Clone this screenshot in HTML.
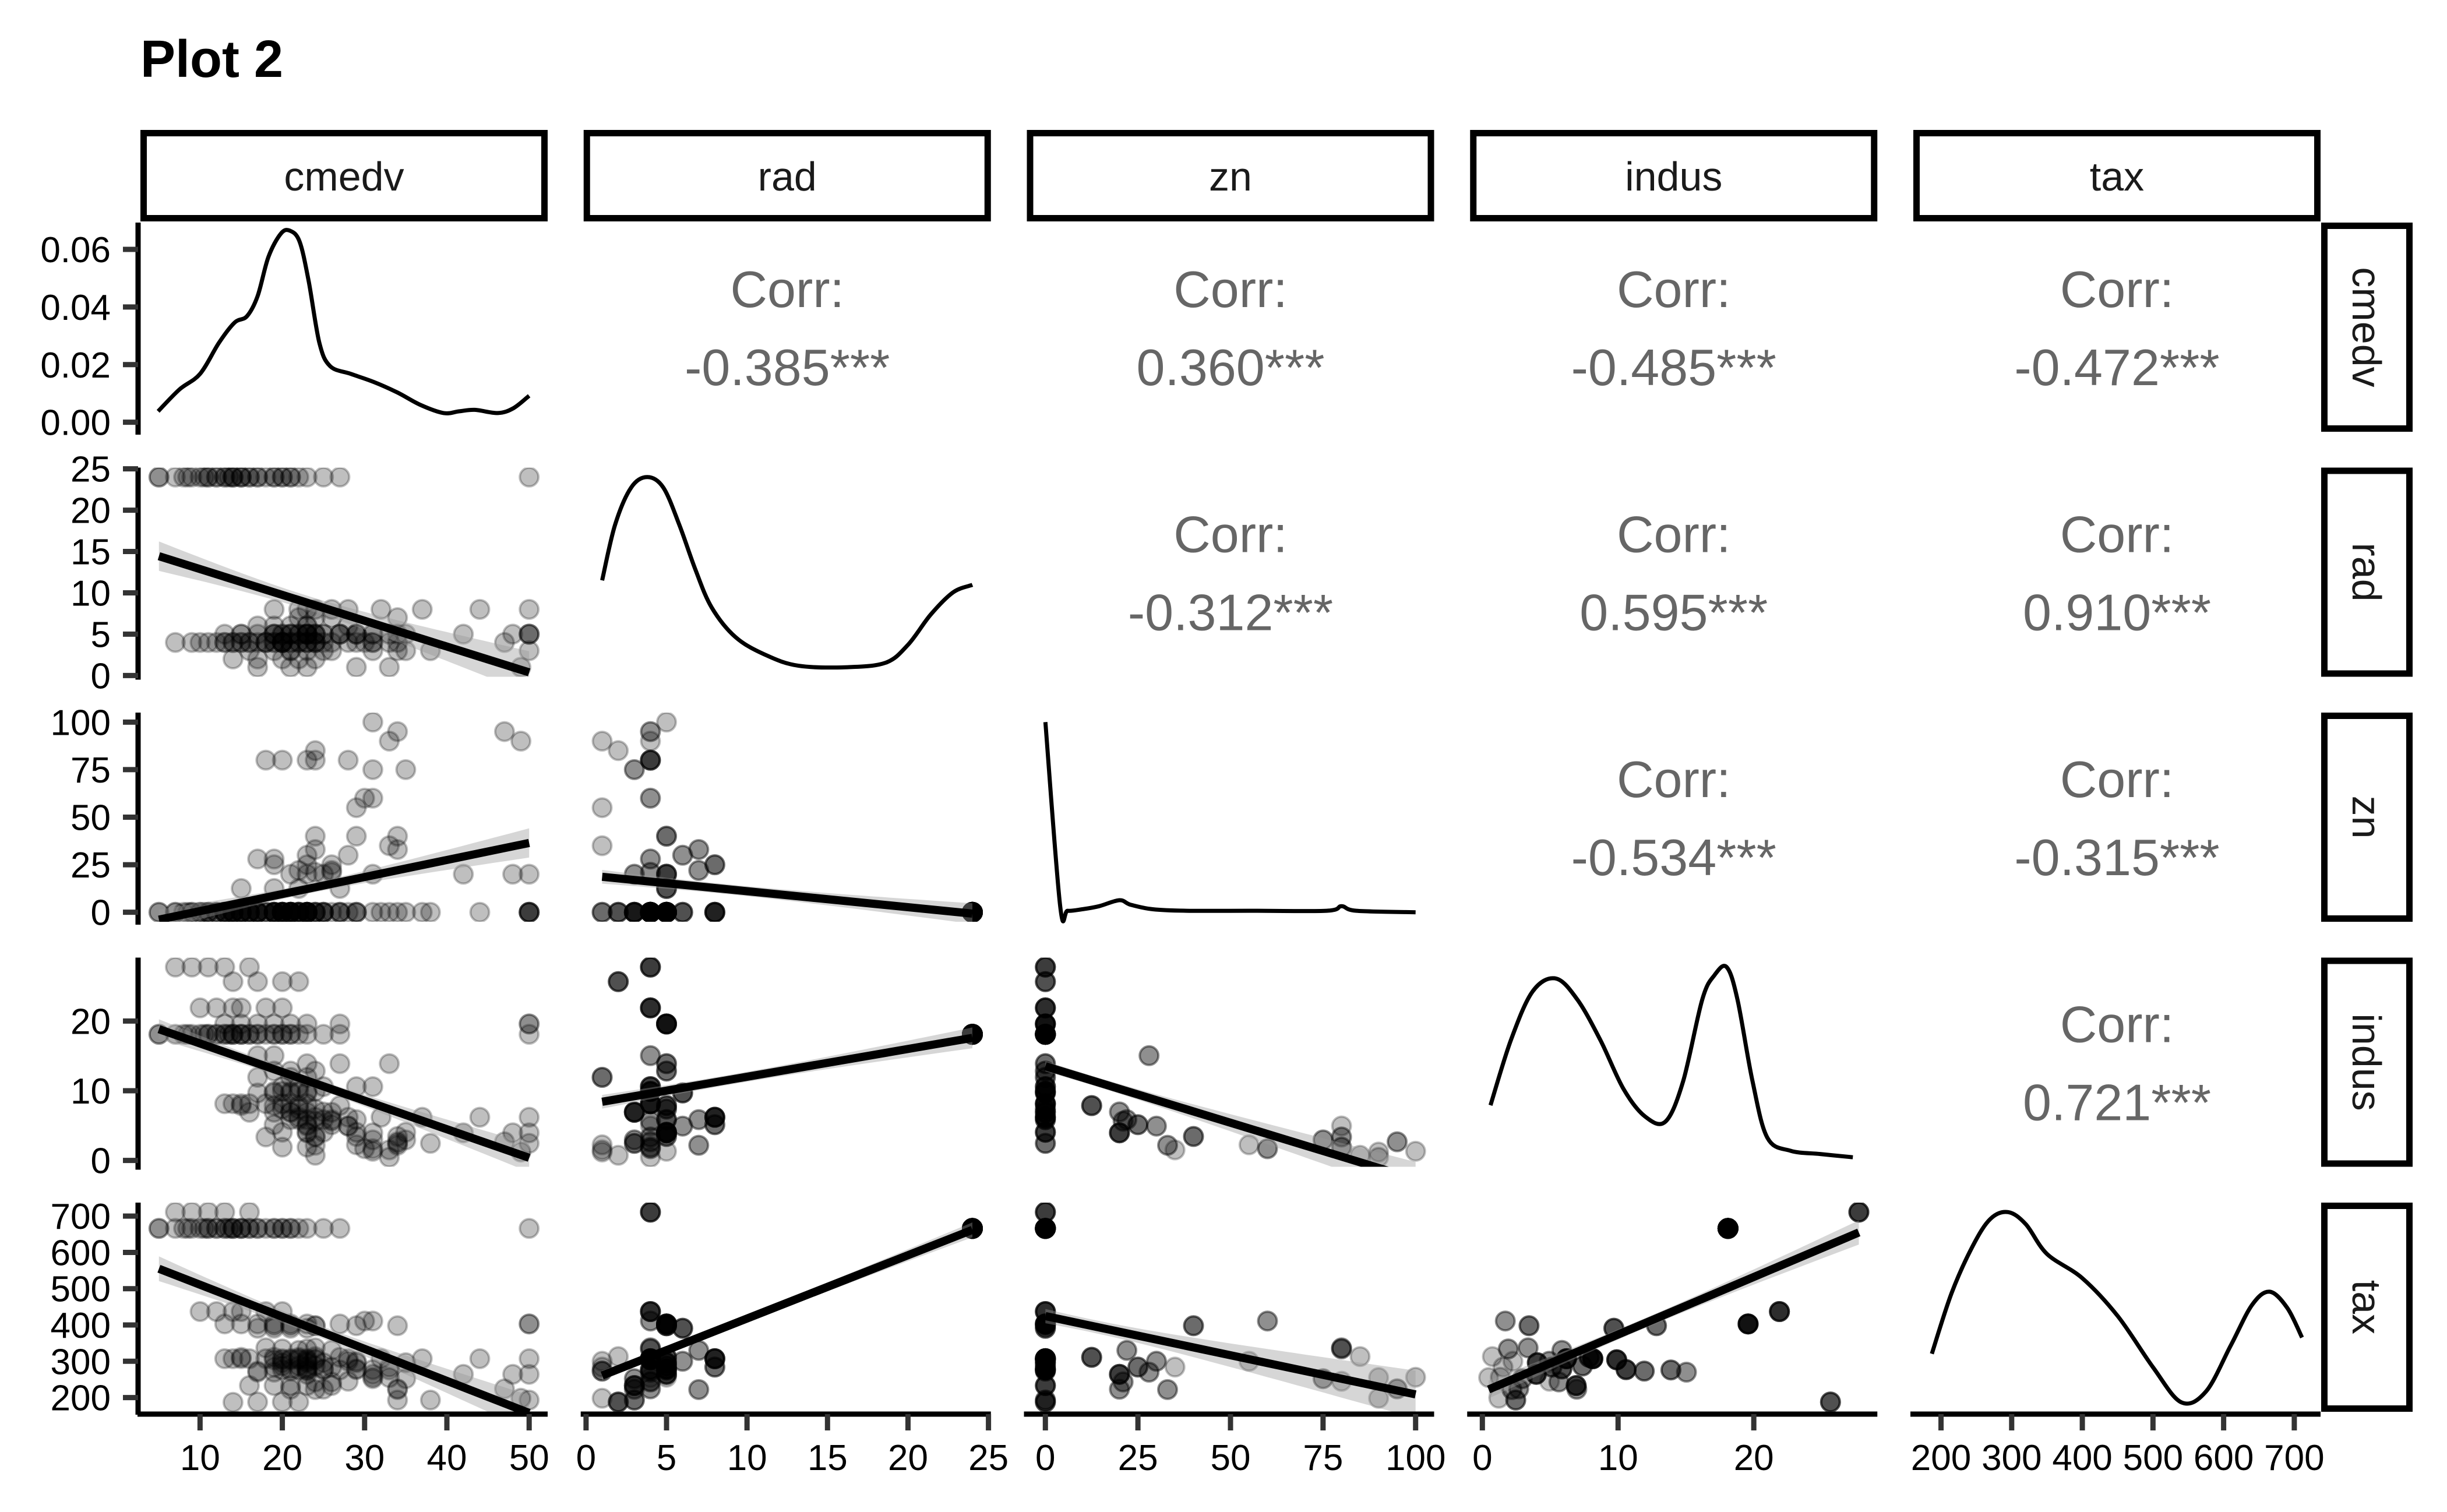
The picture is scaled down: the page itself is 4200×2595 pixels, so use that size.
<!DOCTYPE html>
<html><head><meta charset="utf-8"><title>Plot 2</title>
<style>
html,body{margin:0;padding:0;background:#fff;}
svg{display:block;font-family:"Liberation Sans",Arial,sans-serif;}
</style></head>
<body>
<svg id="chart" xmlns="http://www.w3.org/2000/svg" width="4200" height="2595" viewBox="0 0 4200 2595">
<rect x="0" y="0" width="4200" height="2595" fill="#fff"/>
<text x="241" y="132" font-size="90" font-weight="bold" fill="#000">Plot 2</text>
</svg>
<script>
// ---- data ----
const varNames = ["cmedv","rad","zn","indus","tax"];
const cmedv = [
5,5,7,8,8.5,9,10,10.5,11,11,12,12,13,13,13.5,14,14,14,15,15,15,16,16,17,17,18,19,19,20,20,21,21,22,23,25,27,50,
7,9,11,13,16,
13,15,17,19,21,23,27,50,50,
10,12,14,15,18,20,
14,17,20,22,
13,14,15,16,18,20,21,23,
22,24,28,32,37,44,50,
19,20,21,22,23,24,
20,22,25,29,31,
21,23,25,29,
16,19,21,23,26,
20,23,25,29,35,
17,19,21,23,
19,21,24,
20,22,24,
23,27,33,
17,21,23,
23,31,42,48,50,
34,38,50,
24,29,34,
20,23,18,24,34,47,49,24,31,31,35,30,31,29,33,24,34,17,19,19,23,26,22,26,24,26,15,19,22,27,21,25,23,28,28,33];
const rad = [
24,24,24,24,24,24,24,24,24,24,24,24,24,24,24,24,24,24,24,24,24,24,24,24,24,24,24,24,24,24,24,24,24,24,24,24,24,
4,4,4,4,4,
5,5,5,5,5,5,5,5,5,
4,4,4,4,4,4,
2,2,2,2,
4,4,4,4,4,4,4,4,
8,8,8,8,8,8,8,
4,4,4,4,4,4,
4,4,4,4,4,
5,5,5,5,
3,3,3,3,3,
5,5,5,5,5,
6,6,6,6,
5,5,5,
5,5,5,
5,5,5,
1,1,1,
5,5,5,5,5,
3,3,3,
5,5,5,
4,4,4,4,4,4,1,2,5,3,3,4,4,1,1,7,7,4,4,8,8,8,7,7,4,4,5,5,5,5,3,3,6,6,4,4];
const zn = [
0,0,0,0,0,0,0,0,0,0,0,0,0,0,0,0,0,0,0,0,0,0,0,0,0,0,0,0,0,0,0,0,0,0,0,0,0,
0,0,0,0,0,
0,0,0,0,0,0,0,0,0,
0,0,0,0,0,0,
0,0,0,0,
0,0,0,0,0,0,0,0,
0,0,0,0,0,0,0,
0,0,0,0,0,0,
0,0,0,0,0,
0,0,0,0,
0,0,0,0,0,
0,0,0,0,0,
0,0,0,0,
0,0,0,
0,0,0,
0,0,0,
0,0,0,
20,20,20,20,20,
0,0,0,
40,40,40,
80,80,80,80,95,95,90,85,100,75,75,60,60,55,35,33,33,28,28,25,25,25,22,22,21,21,12.5,12.5,12.5,12.5,20,20,30,30,80,90];
const indus = [
18.1,18.1,18.1,18.1,18.1,18.1,18.1,18.1,18.1,18.1,18.1,18.1,18.1,18.1,18.1,18.1,18.1,18.1,18.1,18.1,18.1,18.1,18.1,18.1,18.1,18.1,18.1,18.1,18.1,18.1,18.1,18.1,18.1,18.1,18.1,18.1,18.1,
27.74,27.74,27.74,27.74,27.74,
19.58,19.58,19.58,19.58,19.58,19.58,19.58,19.58,19.58,
21.89,21.89,21.89,21.89,21.89,21.89,
25.65,25.65,25.65,25.65,
8.14,8.14,8.14,8.14,8.14,8.14,8.14,8.14,
6.2,6.2,6.2,6.2,6.2,6.2,6.2,
9.9,9.9,9.9,9.9,9.9,9.9,
10.59,10.59,10.59,10.59,10.59,
5.86,5.86,5.86,5.86,
6.91,6.91,6.91,6.91,6.91,
4.05,4.05,4.05,4.05,4.05,
9.69,9.69,9.69,9.69,
12.83,12.83,12.83,
7.38,7.38,7.38,
13.89,13.89,13.89,
11.93,11.93,11.93,
3.97,3.97,3.97,3.97,3.97,
2.46,2.46,2.46,
3.44,3.44,3.44,
1.91,1.91,3.37,3.37,2.68,2.68,1.21,0.74,1.32,2.95,2.95,1.69,1.69,2.25,1.52,2.18,2.18,15.04,15.04,5.13,5.13,5.13,5.86,5.86,5.64,5.64,7.87,7.87,7.87,7.87,6.96,6.96,4.93,4.93,4.95,0.46];
const tax = [
666,666,666,666,666,666,666,666,666,666,666,666,666,666,666,666,666,666,666,666,666,666,666,666,666,666,666,666,666,666,666,666,666,666,666,666,666,
711,711,711,711,711,
403,403,403,403,403,403,403,403,403,
437,437,437,437,437,437,
187,188,188,188,
307,307,307,307,307,307,307,307,
307,307,307,307,307,307,307,
304,304,304,304,304,304,
277,277,277,277,277,
279,279,279,279,
233,233,233,233,233,
296,296,296,296,296,
391,391,391,391,
398,398,398,
287,287,287,
276,276,276,
273,273,273,
264,264,264,264,264,
193,193,193,
398,398,398,
334,334,337,337,224,224,198,313,256,252,252,411,411,300,284,222,222,270,270,284,284,284,330,330,243,243,311,311,311,311,223,223,300,300,245,255];

// density curves (x value, density)
const densCmedvX = [4.9,7.5,10,12.3,14.2,15.7,17,18.3,19.8,20.9,22.1,23.2,24.5,25.8,28.3,31.1,34,36.8,39.6,41.5,43.4,46.2,48.1,50];
const densCmedvY = [0.0038,0.0114,0.0168,0.0276,0.0346,0.0368,0.0438,0.0573,0.0654,0.0665,0.0627,0.049,0.0276,0.0195,0.0168,0.014,0.0103,0.006,0.0032,0.0038,0.0043,0.0032,0.0049,0.0092];
const densRadX = [1,1.8,2.8,3.8,4.8,5.8,6.8,7.8,9.3,11.2,13.2,16.1,18.6,20,21.4,22.8,24];
const densRadY = [0.061,0.098,0.123,0.130,0.123,0.098,0.068,0.043,0.023,0.011,0.004,0.003,0.006,0.018,0.038,0.053,0.058];
const densZnX = [0,4,6,10,14.5,20,23,29,38,55,76,80,84,100];
const densZnY = [128,6,3,4,6,10,7,4,3,3,3,6,3,2];
const densIndusX = [0.6,2.1,3.7,5.4,7.0,8.7,10.4,12.0,13.5,14.8,16.2,17.1,18.0,18.8,19.9,21.0,22.7,24.9,27.3];
const densIndusY = [42,82,112,120,107,82,52,35,32,57,107,122,127,107,57,22,14,12,10];
const densTaxX = [187,215,245,270,295,320,350,400,450,500,540,575,610,640,665,690,711];
const densTaxY = [44,89,124,144,149,140,118,100,72,34,8,16,50,80,90,78,56];

const corrLabels = {"0-1":"-0.385***","0-2":"0.360***","0-3":"-0.485***","0-4":"-0.472***",
  "1-2":"-0.312***","1-3":"0.595***","1-4":"0.910***","2-3":"-0.534***","2-4":"-0.315***","3-4":"0.721***"};

const densTicks = [0,0.02,0.04,0.06];
const densTickLabels = ["0.00","0.02","0.04","0.06"];
const ticksCmedv = [10,20,30,40,50];
const ticksRad = [0,5,10,15,20,25];
const ticksZn = [0,25,50,75,100];
const ticksIndus = [0,10,20];
const ticksTax = [200,300,400,500,600,700];

// ---- layout ----
const NS = "http://www.w3.org/2000/svg";
const svg = document.getElementById("chart");
const X0 = 241, PW = 699, PX = 760.75;
const Y0 = 382, PH = 359, PY = 420.5;
const dataVals = [cmedv, rad, zn, indus, tax];
const ticks = [ticksCmedv, ticksRad, ticksZn, ticksIndus, ticksTax];
const densX = [densCmedvX, densRadX, densZnX, densIndusX, densTaxX];
const densY = [densCmedvY, densRadY, densZnY, densIndusY, densTaxY];

function mk(tag, attrs, parent){
  const e = document.createElementNS(NS, tag);
  for (const k in attrs) e.setAttribute(k, attrs[k]);
  (parent || svg).appendChild(e);
  return e;
}
function domainOf(arr){
  let mn = Math.min(...arr), mx = Math.max(...arr);
  const pad = (mx - mn) * 0.05;
  return [mn - pad, mx + pad];
}
function xScale(j){
  const d = domainOf(dataVals[j]);
  const left = X0 + j * PX;
  return v => left + (v - d[0]) / (d[1] - d[0]) * PW;
}
function yScale(i){
  const d = domainOf(dataVals[i]);
  const top = Y0 + i * PY;
  return v => top + PH - (v - d[0]) / (d[1] - d[0]) * PH;
}
function densYScale(i){
  const d = domainOf(densY[i]);
  const top = Y0 + i * PY;
  return v => top + PH - (v - d[0]) / (d[1] - d[0]) * PH;
}
function smoothPath(pts){
  let d = "M" + pts[0][0].toFixed(1) + "," + pts[0][1].toFixed(1);
  for (let k = 0; k < pts.length - 1; k++){
    const p0 = pts[k-1] || pts[k], p1 = pts[k], p2 = pts[k+1], p3 = pts[k+2] || p2;
    const c1x = p1[0] + (p2[0]-p0[0])/6, c1y = p1[1] + (p2[1]-p0[1])/6;
    const c2x = p2[0] - (p3[0]-p1[0])/6, c2y = p2[1] - (p3[1]-p1[1])/6;
    d += " C" + c1x.toFixed(1)+","+c1y.toFixed(1)+" "+c2x.toFixed(1)+","+c2y.toFixed(1)+" "+p2[0].toFixed(1)+","+p2[1].toFixed(1);
  }
  return d;
}

// clip paths
const defs = mk("defs", {});
for (let i = 0; i < 5; i++) for (let j = 0; j < 5; j++){
  const cp = mk("clipPath", {id: "clip-" + i + "-" + j}, defs);
  mk("rect", {x: X0 + j*PX, y: Y0 + i*PY, width: PW, height: PH}, cp);
}

// top strips
for (let j = 0; j < 5; j++){
  const g = mk("g", {});
  
  
  const left = X0 + j*PX;
  mk("rect", {x: left + 5.5, y: 228.5, width: PW - 11, height: 146, fill: "#fff", stroke: "#000", "stroke-width": 11}, g);
  const t = mk("text", {x: left + PW/2, y: 327, "font-size": 70, "text-anchor": "middle", fill: "#1a1a1a"}, g);
  t.textContent = varNames[j];
}
// right strips
for (let i = 0; i < 5; i++){
  const g = mk("g", {});
  
  
  const top = Y0 + i*PY;
  mk("rect", {x: 3989.5, y: top + 5.5, width: 146, height: PH - 11, fill: "#fff", stroke: "#000", "stroke-width": 11}, g);
  const cx = 4062, cy = top + PH/2;
  const t = mk("text", {x: cx, y: cy, "font-size": 70, "text-anchor": "middle", "dominant-baseline": "central", fill: "#1a1a1a", transform: "rotate(90 " + cx + " " + cy + ")"}, g);
  t.textContent = varNames[i];
}

// panels
for (let i = 0; i < 5; i++){
  for (let j = 0; j < 5; j++){
    const left = X0 + j*PX, top = Y0 + i*PY;
    const g = mk("g", {});
    if (i === j){
      
      
      const xs = xScale(j);
      const ys = (i === 0) ? (v => top + PH - (v + 0.0033) / 0.0726 * PH) : densYScale(i);
      const pts = densX[i].map((x, k) => [xs(x), ys(densY[i][k])]);
      const p = mk("path", {d: smoothPath(pts), fill: "none", stroke: "#000", "stroke-width": 7, "stroke-linejoin": "round"}, g);
      
      
    } else if (i < j){
      
      
      const cx = left + PW/2;
      const t1 = mk("text", {x: cx, y: top + 145, "font-size": 88, "text-anchor": "middle", fill: "#666"}, g);
      t1.textContent = "Corr:";
      const t2 = mk("text", {x: cx, y: top + 279, "font-size": 88, "text-anchor": "middle", fill: "#666"}, g);
      t2.textContent = corrLabels[i + "-" + j];
    } else {
      
      
      g.setAttribute("clip-path", "url(#clip-" + i + "-" + j + ")");
      const xs = xScale(j), ys = yScale(i);
      const xv = dataVals[j], yv = dataVals[i];
      for (let k = 0; k < xv.length; k++){
        const c = mk("circle", {cx: xs(xv[k]).toFixed(1), cy: ys(yv[k]).toFixed(1), r: 16, fill: "rgba(0,0,0,0.25)", stroke: "rgba(0,0,0,0.25)", "stroke-width": 4}, g);
        
        
      }
      // OLS fit
      const n = xv.length;
      const mx = xv.reduce((a,b)=>a+b,0)/n, my = yv.reduce((a,b)=>a+b,0)/n;
      let sxx = 0, sxy = 0;
      for (let k = 0; k < n; k++){ sxx += (xv[k]-mx)*(xv[k]-mx); sxy += (xv[k]-mx)*(yv[k]-my); }
      const b = sxy / sxx, a = my - b*mx;
      let sse = 0;
      for (let k = 0; k < n; k++){ const r = yv[k] - (a + b*xv[k]); sse += r*r; }
      const s = Math.sqrt(sse / (n - 2));
      const xmin = Math.min(...xv), xmax = Math.max(...xv);
      const up = [], lo = [];
      for (let q = 0; q <= 40; q++){
        const x = xmin + (xmax - xmin) * q / 40;
        const se = 1.4 * s * Math.sqrt(1/n + (x-mx)*(x-mx)/sxx);
        up.push(xs(x).toFixed(1) + "," + ys(a + b*x + se).toFixed(1));
        lo.unshift(xs(x).toFixed(1) + "," + ys(a + b*x - se).toFixed(1));
      }
      const band = mk("polygon", {points: up.concat(lo).join(" "), fill: "#999", "fill-opacity": 0.4}, g);
      
      
      const ln = mk("line", {x1: xs(xmin), y1: ys(a + b*xmin), x2: xs(xmax), y2: ys(a + b*xmax), stroke: "#000", "stroke-width": 14}, g);
      
      
    }
  }
}

// left y axes
for (let i = 0; i < 5; i++){
  const top = Y0 + i*PY;
  const g = mk("g", {});
  
  
  mk("line", {x1: 237, y1: top, x2: 237, y2: top + PH + 5, stroke: "#000", "stroke-width": 9}, g);
  let tv, tl, ys;
  if (i === 0){ tv = densTicks; tl = densTickLabels; ys = v => top + PH - (v + 0.0033) / 0.0726 * PH; }
  else { tv = ticks[i]; tl = ticks[i].map(String); ys = yScale(i); }
  tv.forEach((v, k) => {
    const y = ys(v);
    mk("line", {x1: 211, y1: y, x2: 237, y2: y, stroke: "#333", "stroke-width": 9}, g);
    const t = mk("text", {x: 190, y: y + 22, "font-size": 62, "text-anchor": "end", fill: "#000"}, g);
    t.textContent = tl[k];
  });
}
// bottom x axes
for (let j = 0; j < 5; j++){
  const left = X0 + j*PX;
  const g = mk("g", {});
  
  
  const yb = Y0 + 4*PY + PH + 4;
  mk("line", {x1: left - 5, y1: yb, x2: left + PW, y2: yb, stroke: "#000", "stroke-width": 9}, g);
  const xs = xScale(j);
  ticks[j].forEach(v => {
    const x = xs(v);
    mk("line", {x1: x, y1: yb, x2: x, y2: yb + 28, stroke: "#333", "stroke-width": 9}, g);
    const t = mk("text", {x: x, y: 2523, "font-size": 62, "text-anchor": "middle", fill: "#000"}, g);
    t.textContent = String(v);
  });
}
</script>
</body></html>
